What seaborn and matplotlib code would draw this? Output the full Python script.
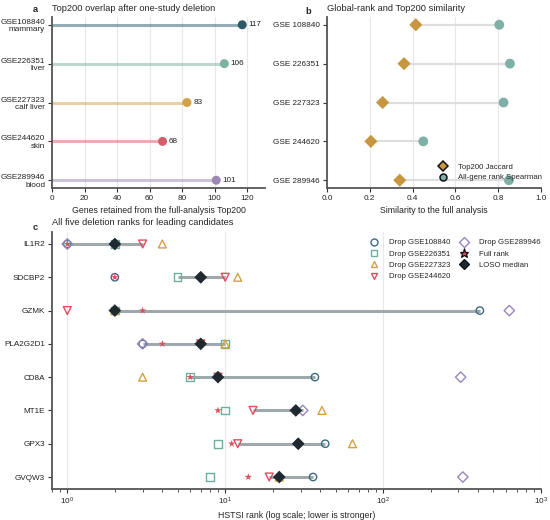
import numpy as np
import pandas as pd
import matplotlib
matplotlib.use("Agg")
import matplotlib.pyplot as plt
import seaborn as sns
from matplotlib.lines import Line2D
from matplotlib import font_manager

# ---------------- data ----------------
studies = ["GSE108840", "GSE226351", "GSE227323", "GSE244620", "GSE289946"]
tissues = ["mammary", "liver", "calf liver", "skin", "blood"]
retained = [117, 106, 83, 68, 101]
jaccard = [0.415, 0.36, 0.26, 0.205, 0.34]
spearman = [0.805, 0.855, 0.825, 0.45, 0.85]

genes = ["IL1R2", "SDCBP2", "GZMK", "PLA2G2D1", "CD8A", "MT1E", "GPX3", "GVQW3"]
full_rank = [1, 2, 3, 4, 6, 9, 11, 14]
drop_108840 = [1, 2, 410, 3, 37, 28, 43, 36]
drop_226351 = [2, 5, 2, 10, 6, 10, 9, 8]
drop_227323 = [4, 12, 2, 10, 3, 41, 64, 22]
drop_244620 = [3, 10, 1, 7, 9, 15, 12, 19]
drop_289946 = [1, 7, 630, 3, 310, 31, 29, 320]

# ---------------- style ----------------
sns.set_theme(style="white")
names = {f.name for f in font_manager.fontManager.ttflist}
fam = ["Liberation Sans Narrow", "Liberation Sans", "DejaVu Sans"]
fam = [f for f in fam if f in names] + ["DejaVu Sans"]
plt.rcParams["font.family"] = fam
narrow = "Liberation Sans Narrow" in names
sc = 1.0 if narrow else 0.85

FS_TICK = 6.9 * sc
FS_LEG = 6.6 * sc
FS_LAB = 7.4 * sc
FS_TITLE = 7.9 * sc
plt.rcParams["font.size"] = FS_TICK

study_colors = ["#2d5a6b", "#7db3a5", "#d2a24a", "#d45d69", "#9b88b6"]
spine_col = "#555555"
grid_col = "#e8e8e8"


def style_axes(ax):
    for s in ["top", "right"]:
        ax.spines[s].set_visible(False)
    for s in ["left", "bottom"]:
        ax.spines[s].set_color(spine_col)
        ax.spines[s].set_linewidth(1.3)
    ax.tick_params(axis="both", which="both", labelsize=FS_TICK, colors="#333333",
                   length=3, width=0.8, direction="out", left=True, bottom=True, pad=2)
    ax.tick_params(axis="both", labelcolor="#222222")


fig = plt.figure(figsize=(5.5, 5.2), dpi=100)
W, H = 550.0, 520.0


def make_ax(l, r, t, b):
    return fig.add_axes([l / W, 1 - b / H, (r - l) / W, (b - t) / H])


# ---------------- panel a ----------------
axa = make_ax(52, 265, 17, 188)
df_a = pd.DataFrame({"study": studies, "tissue": tissues, "retained": retained,
                     "pos": np.arange(len(studies))})
for i, row in df_a.iterrows():
    axa.plot([0, row["retained"]], [row["pos"], row["pos"]], color=study_colors[i],
             alpha=0.5, lw=2.2, solid_capstyle="butt", zorder=2)
sns.scatterplot(data=df_a, x="retained", y="pos", hue="study", palette=study_colors,
                s=42, edgecolor="none", legend=False, ax=axa, zorder=3)
for i, row in df_a.iterrows():
    axa.annotate(str(row["retained"]), (row["retained"], row["pos"]), xytext=(4.5, 0),
                 textcoords="offset points", va="center", ha="left", fontsize=FS_TICK,
                 color="#222222")
axa.set_xlim(0, 131)
axa.set_ylim(4.2, -0.2)
axa.set_xticks([0, 20, 40, 60, 80, 100, 120])
axa.set_yticks(df_a["pos"])
axa.set_yticklabels([f"{s}\n{t}" for s, t in zip(studies, tissues)], linespacing=1.1)
axa.xaxis.grid(True, color=grid_col, lw=0.8)
axa.set_axisbelow(True)
style_axes(axa)
axa.set_xlabel("Genes retained from the full-analysis Top200", fontsize=FS_LAB, labelpad=3)
axa.set_ylabel("")
axa.set_title("Top200 overlap after one-study deletion", loc="left", fontsize=FS_TITLE, pad=4)
fig.text(35 / W, 1 - 10 / H, "a", fontsize=FS_TITLE, fontweight="bold", va="center", ha="center")

# ---------------- panel b ----------------
axb = make_ax(327, 541, 17, 188)
df_b = pd.DataFrame({"label": ["GSE " + s[3:] for s in studies], "jaccard": jaccard,
                     "spearman": spearman, "pos": np.arange(len(studies))})
for i, row in df_b.iterrows():
    axb.plot([row["jaccard"], row["spearman"]], [row["pos"], row["pos"]],
             color="#dedede", lw=1.6, zorder=1)
jac_col = "#c8963e"
spe_col = "#7fb0a8"
sns.scatterplot(data=df_b, x="jaccard", y="pos", marker="D", color=jac_col, s=45,
                edgecolor="none", ax=axb, zorder=3)
sns.scatterplot(data=df_b, x="spearman", y="pos", marker="o", color=spe_col, s=50,
                edgecolor="none", ax=axb, zorder=3)
axb.set_xlim(0, 1)
axb.set_ylim(4.2, -0.2)
axb.set_xticks([0, 0.2, 0.4, 0.6, 0.8, 1.0])
axb.set_xticklabels(["0.0", "0.2", "0.4", "0.6", "0.8", "1.0"])
axb.set_yticks(df_b["pos"])
axb.set_yticklabels(df_b["label"])
axb.xaxis.grid(True, color=grid_col, lw=0.8)
axb.set_axisbelow(True)
style_axes(axb)
axb.set_xlabel("Similarity to the full analysis", fontsize=FS_LAB, labelpad=3)
axb.set_ylabel("")
axb.set_title("Global-rank and Top200 similarity", loc="left", fontsize=FS_TITLE, pad=4)
fig.text(308 / W, 1 - 11 / H, "b", fontsize=FS_TITLE, fontweight="bold", va="center", ha="center")
hb = [Line2D([], [], marker="D", ls="", mfc=jac_col, mec="#111111", mew=1.1, ms=5,
             label="Top200 Jaccard"),
      Line2D([], [], marker="o", ls="", mfc=spe_col, mec="#111111", mew=1.1, ms=5,
             label="All-gene rank Spearman")]
axb.legend(handles=hb, loc="lower left", bbox_to_anchor=(0.49, 0.02), frameon=False,
           fontsize=FS_LEG, handletextpad=0.9, labelspacing=0.45, borderaxespad=0.0)

# ---------------- panel c ----------------
axc = make_ax(52, 541, 232, 489)
drops = np.array([drop_108840, drop_226351, drop_227323, drop_244620, drop_289946])
med = np.median(drops, axis=0)
q25 = np.percentile(drops, 25, axis=0)
q75 = np.percentile(drops, 75, axis=0)
pos_c = np.arange(len(genes))
df_c = pd.DataFrame({"gene": genes, "pos": pos_c, "full": full_rank, "median": med,
                     "q25": q25, "q75": q75})

for i, row in df_c.iterrows():
    axc.plot([row["q25"], row["q75"]], [row["pos"], row["pos"]], color="#9ea8ad",
             lw=2.2, solid_capstyle="butt", zorder=1)

drop_markers = ["o", "s", "^", "v", "D"]
drop_cols = ["#3d6a80", "#6fae9f", "#d4a23f", "#d9505e", "#9a86bc"]
drop_sizes = [28, 30, 32, 32, 28]
handles_c = []
for k in range(5):
    dfk = pd.DataFrame({"rank": drops[k], "pos": pos_c})
    sns.scatterplot(data=dfk, x="rank", y="pos", marker=drop_markers[k], s=drop_sizes[k],
                    facecolors="none", edgecolor=drop_cols[k], linewidth=1.0,
                    ax=axc, zorder=3)
    handles_c.append(Line2D([], [], marker=drop_markers[k], ls="", mfc="none",
                            mec=drop_cols[k], mew=1.0, ms=5,
                            label=f"Drop {studies[k]}"))
sns.scatterplot(data=df_c, x="full", y="pos", marker="*", color="#d9505e", s=30,
                edgecolor="none", ax=axc, zorder=4)
sns.scatterplot(data=df_c, x="median", y="pos", marker="D", color="#1f2a30", s=42,
                edgecolor="none", ax=axc, zorder=5)
handles_c.append(Line2D([], [], marker="*", ls="", mfc="#d9505e", mec="#111111", mew=0.9,
                        ms=6.5, label="Full rank"))
handles_c.append(Line2D([], [], marker="D", ls="", mfc="#1f2a30", mec="#111111", mew=0.9,
                        ms=5.5, label="LOSO median"))

axc.set_xscale("log")
axc.set_xlim(0.8, 1000)
axc.set_ylim(7.36, -0.36)
axc.set_yticks(pos_c)
axc.set_yticklabels(genes)
axc.xaxis.grid(True, which="major", color=grid_col, lw=0.8)
axc.set_axisbelow(True)
style_axes(axc)
axc.tick_params(axis="x", which="minor", length=2, width=0.6)
axc.set_xlabel("HSTSI rank (log scale; lower is stronger)", fontsize=FS_LAB, labelpad=3)
axc.set_ylabel("")
axc.set_title("All five deletion ranks for leading candidates", loc="left", fontsize=FS_TITLE, pad=5)
fig.text(35 / W, 1 - 228 / H, "c", fontsize=FS_TITLE, fontweight="bold", va="center", ha="center")
axc.legend(handles=handles_c, loc="upper left", ncol=2, frameon=False, fontsize=FS_LEG,
           bbox_to_anchor=(0.637, 0.985), handletextpad=0.9, labelspacing=0.5,
           columnspacing=0.75, borderaxespad=0.0)

fig.savefig("out.png", dpi=100)
